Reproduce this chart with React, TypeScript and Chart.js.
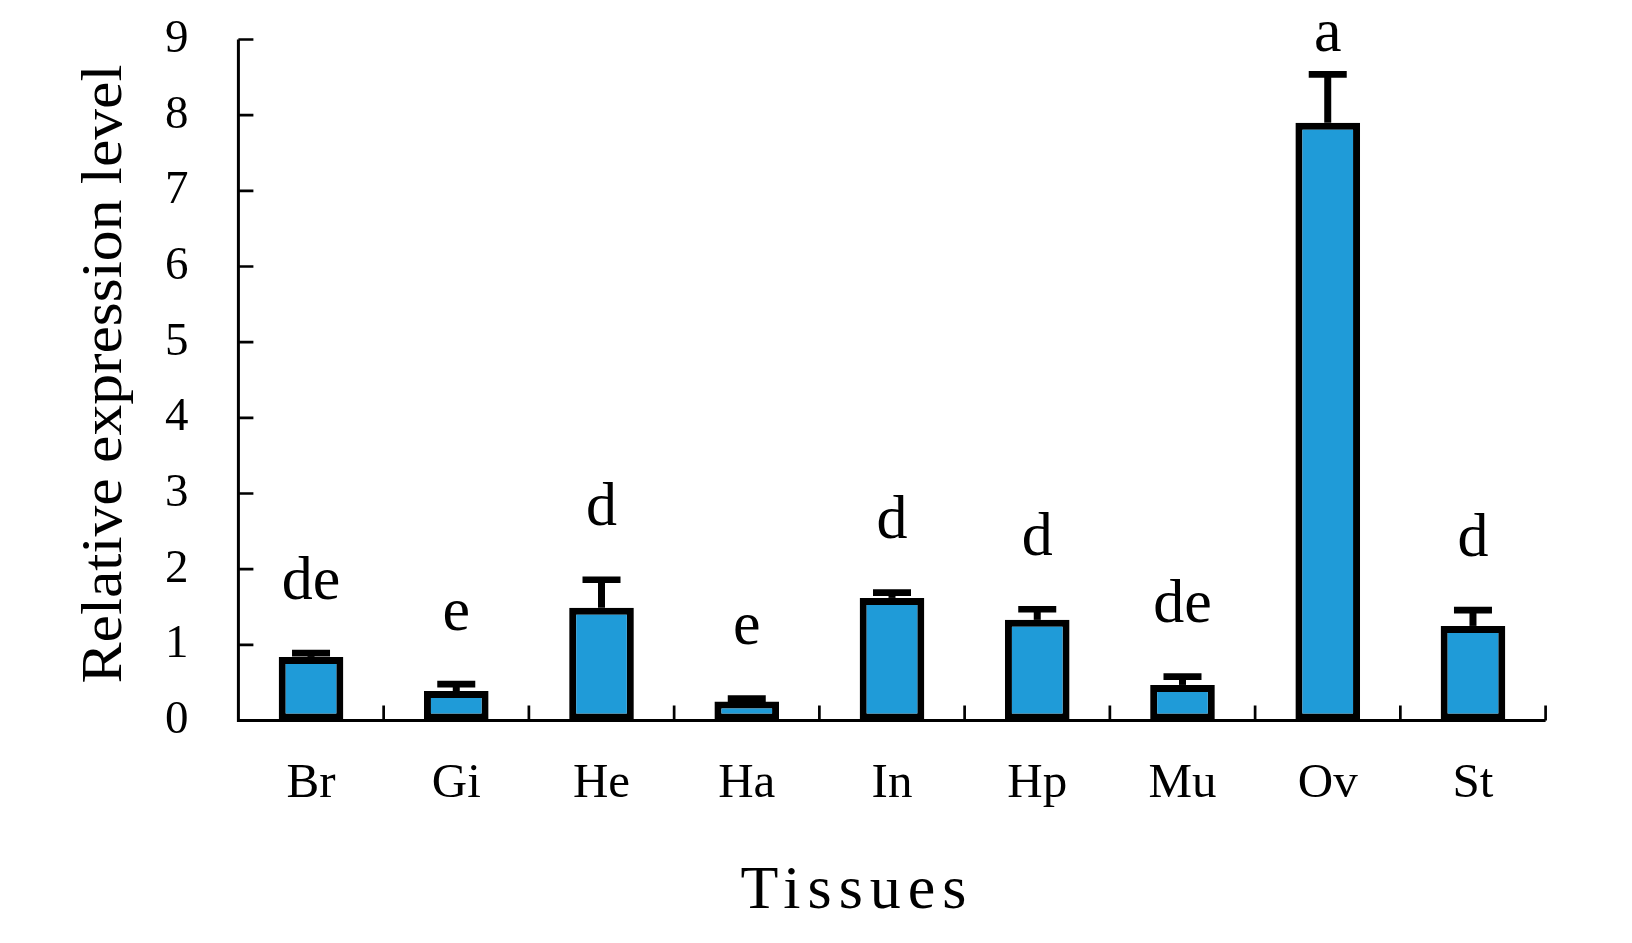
import React, { useEffect, useRef } from "react";
import { Chart, registerables } from "chart.js";

Chart.register(...registerables);

const categories = ["Br", "Gi", "He", "Ha", "In", "Hp", "Mu", "Ov", "St"];
const meanValues = [0.84, 0.39, 1.49, 0.25, 1.62, 1.33, 0.47, 7.9, 1.25];
const errorValues = [0.05, 0.09, 0.37, 0.04, 0.07, 0.14, 0.11, 0.64, 0.21];
const letters = ["de", "e", "d", "e", "d", "d", "de", "a", "d"];
const yMin = 0;
const yMax = 9;
const yStep = 1;
const xTitle = "Tissues";
const yTitle = "Relative expression level";

const SERIF = "'Liberation Serif', 'Times New Roman', serif";

const decorPlugin = {
  id: "decor",
  afterDatasetsDraw(chart: any) {
    const ctx = chart.ctx;
    const xs = chart.scales.x;
    const ys = chart.scales.y;
    const area = chart.chartArea;
    ctx.save();
    ctx.strokeStyle = "#000";
    ctx.fillStyle = "#000";
    // error bars
    meanValues.forEach((v, i) => {
      const cx = xs.getPixelForValue(i);
      const yTop = ys.getPixelForValue(v);
      const yErr = ys.getPixelForValue(v + errorValues[i]);
      ctx.lineCap = "butt";
      ctx.lineWidth = 7;
      ctx.beginPath();
      ctx.moveTo(cx, yTop);
      ctx.lineTo(cx, yErr);
      ctx.stroke();
      ctx.lineWidth = 6.7;
      ctx.beginPath();
      ctx.moveTo(cx - 19, yErr);
      ctx.lineTo(cx + 19, yErr);
      ctx.stroke();
      // significance letters
      const base = Math.max(yErr - 3.3 - 51, area.top + 11);
      ctx.font = `62px ${SERIF}`;
      ctx.textAlign = "center";
      ctx.textBaseline = "alphabetic";
      ctx.fillText(letters[i], cx, base);
    });
    // axes
    ctx.lineWidth = 3;
    ctx.beginPath();
    ctx.moveTo(area.left, area.top);
    ctx.lineTo(area.left, area.bottom);
    ctx.moveTo(area.left - 1.5, area.bottom);
    ctx.lineTo(area.right, area.bottom);
    ctx.stroke();
    ctx.lineWidth = 2.7;
    ctx.beginPath();
    for (let t = yMin; t <= yMax; t += yStep) {
      const py = ys.getPixelForValue(t);
      ctx.moveTo(area.left, py);
      ctx.lineTo(area.left + 15, py);
    }
    const n = categories.length;
    const catW = xs.getPixelForValue(1) - xs.getPixelForValue(0);
    for (let k = 1; k <= n; k++) {
      const px = xs.getPixelForValue(k - 1) + catW / 2;
      ctx.moveTo(px, area.bottom);
      ctx.lineTo(px, area.bottom - 15);
    }
    ctx.stroke();
    // y title (slightly stretched)
    ctx.save();
    ctx.font = `58px ${SERIF}`;
    const w = ctx.measureText(yTitle).width;
    const sx = 619 / w;
    ctx.translate(120.7, 374);
    ctx.rotate(-Math.PI / 2);
    ctx.scale(sx, 1);
    ctx.textAlign = "center";
    ctx.textBaseline = "alphabetic";
    ctx.fillText(yTitle, 0, 0);
    ctx.restore();
    // x title
    ctx.save();
    ctx.font = `62px ${SERIF}`;
    (ctx as any).letterSpacing = "7px";
    ctx.textAlign = "center";
    ctx.textBaseline = "alphabetic";
    ctx.fillText(xTitle, 857, 908);
    ctx.restore();
    ctx.restore();
  },
};

export default function App() {
  const ref = useRef<HTMLCanvasElement | null>(null);
  useEffect(() => {
    if (!ref.current) return;
    const chart = new Chart(ref.current, {
      type: "bar",
      data: {
        labels: categories,
        datasets: [
          {
            data: meanValues,
            backgroundColor: "#1f9bd8",
            borderColor: "#000",
            borderWidth: 7,
            borderSkipped: false,
            barPercentage: 0.445,
            categoryPercentage: 1,
          },
        ],
      },
      options: {
        responsive: false,
        animation: false,
        layout: { padding: { left: 0, right: 86.4, top: 39.5, bottom: 0 } },
        plugins: {
          legend: { display: false },
          tooltip: { enabled: false },
        },
        scales: {
          x: {
            offset: true,
            grid: { display: false },
            border: { display: false },
            ticks: {
              color: "#000",
              font: { family: SERIF, size: 49 },
              padding: 26,
            },
            afterFit: (s: any) => {
              s.height = 222.5;
              s.paddingLeft = 0;
              s.paddingRight = 0;
            },
          },
          y: {
            min: yMin,
            max: yMax,
            grid: { display: false },
            border: { display: false },
            ticks: {
              stepSize: yStep,
              color: "#000",
              font: { family: SERIF, size: 47 },
              padding: 42,
            },
            afterFit: (s: any) => {
              s.width = 238.4;
              s.paddingTop = 0;
              s.paddingBottom = 0;
            },
          },
        },
      },
      plugins: [decorPlugin],
    });
    return () => chart.destroy();
  }, []);
  return (
    <div style={{ position: "absolute", left: 0, top: 0, width: 1632, height: 943, background: "#fff" }}>
      <canvas ref={ref} width={1632} height={943} style={{ display: "block" }} />
    </div>
  );
}
